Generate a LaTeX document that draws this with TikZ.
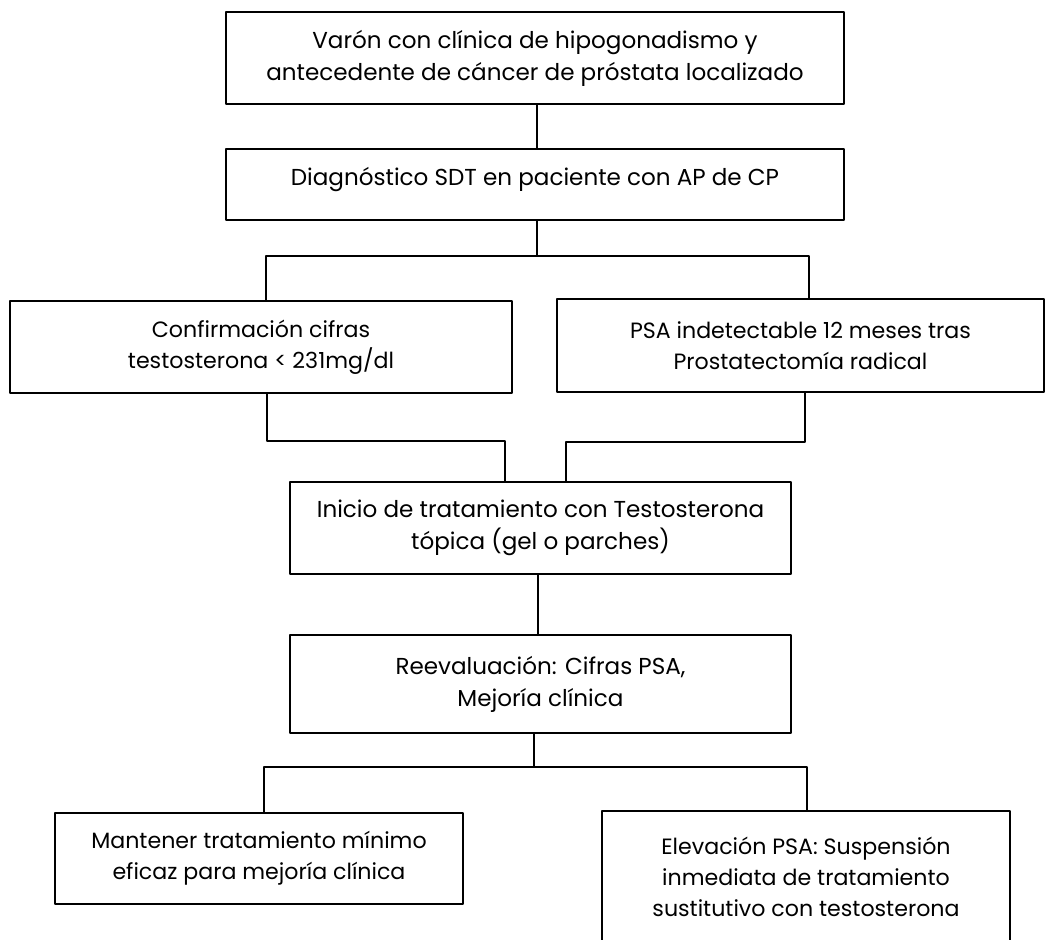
\documentclass[tikz,border=0pt]{standalone}
\usepackage{fontspec}
\setmainfont{Poppins}
\usepackage{tikz}
\usetikzlibrary{calc}

\begin{document}
\begin{tikzpicture}[x=0.75pt,y=-0.75pt,line cap=round,line join=round,
  caja/.style={draw,line width=1pt,align=center,inner sep=0pt,font=\fontsize{17.3}{24}\selectfont},
  cajap/.style={caja,font=\fontsize{16.6}{23}\selectfont},
  linea/.style={line width=1pt}]
\useasboundingbox (0,0) rectangle (1045,939);
\fill[white] (0,0) rectangle (1045,939);

% cajas
\node[caja,minimum width=463.5pt,minimum height=69pt] (cli) at (535,58)
  {Varón con clínica de hipogonadismo y\\antecedente de cáncer de próstata localizado};
\node[caja,minimum width=463.5pt,text height=27pt,text depth=26.25pt] (diag) at (535,184.5)
  {Diagnóstico SDT en paciente con AP de CP};
\node[cajap,minimum width=376.5pt,minimum height=69pt] (conf) at (261,347)
  {Confirmación cifras\\testosterona < 231mg/dl};
\node[cajap,minimum width=365.25pt,minimum height=69.75pt] (psa) at (800.5,345.5)
  {PSA indetectable 12 meses tras\\Prostatectomía radical};
\node[caja,minimum width=375.75pt,minimum height=69pt] (ini) at (540.5,528)
  {Inicio de tratamiento con Testosterona\\tópica (gel o parches)};
\node[caja,minimum width=375.75pt,minimum height=73.5pt] (reev) at (540.5,684)
  {Reevaluación: Cifras PSA,\\Mejoría clínica};
\node[cajap,minimum width=306pt,minimum height=68.25pt] (mant) at (259,858.5)
  {Mantener tratamiento mínimo\\eficaz para mejoría clínica};
\node[cajap,minimum width=306pt,minimum height=99pt] (elev) at (806,877)
  {Elevación PSA: Suspensión\\inmediata de tratamiento\\sustitutivo con testosterona};

% puntos de union
\coordinate (t1) at (537,0);
\coordinate (j1) at (537,256);
\coordinate (j1l) at (266,256);
\coordinate (j1r) at (809,256);
\coordinate (j2l) at (267,441);
\coordinate (j2a) at (505,441);
\coordinate (j2r) at (805,442);
\coordinate (j2b) at (566,442);
\coordinate (t2) at (538,0);
\coordinate (j3) at (534,767);
\coordinate (j3l) at (264,767);
\coordinate (j3r) at (807,767);

% conectores
\draw[linea] (cli.south -| t1) -- (diag.north -| t1);
\draw[linea] (diag.south -| j1) -- (j1);
\draw[linea] (conf.north -| j1l) -- (j1l) -- (j1r) -- (psa.north -| j1r);
\draw[linea] (conf.south -| j2l) -- (j2l) -- (j2a) -- (ini.north -| j2a);
\draw[linea] (psa.south -| j2r) -- (j2r) -- (j2b) -- (ini.north -| j2b);
\draw[linea] (ini.south -| t2) -- (reev.north -| t2);
\draw[linea] (reev.south -| j3) -- (j3);
\draw[linea] (mant.north -| j3l) -- (j3l) -- (j3r) -- (elev.north -| j3r);
\end{tikzpicture}
\end{document}
